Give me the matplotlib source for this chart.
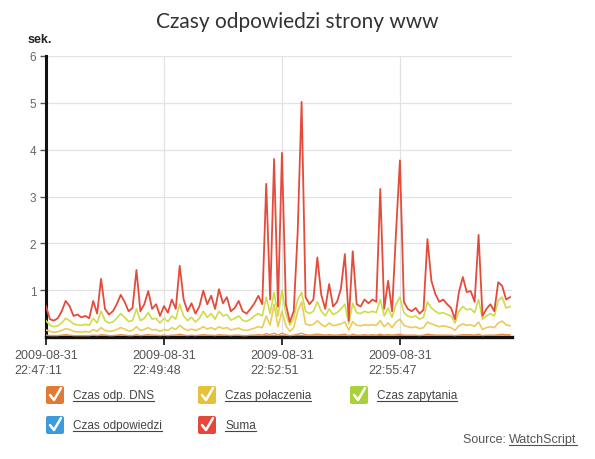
import matplotlib
matplotlib.use("Agg")
import matplotlib.pyplot as plt
from matplotlib.patches import FancyBboxPatch

plt.rcParams['font.family'] = ['Liberation Sans', 'DejaVu Sans']

# ---------------- data ----------------
tick_positions = [0, 30, 60, 90]
tick_labels = ["2009-08-31\n22:47:11", "2009-08-31\n22:49:48",
               "2009-08-31\n22:52:51", "2009-08-31\n22:55:47"]
y_ticks = [1, 2, 3, 4, 5, 6]

suma = [0.66, 0.38, 0.35, 0.40, 0.55, 0.77, 0.66, 0.45, 0.48, 0.42,
        0.45, 0.40, 0.77, 0.50, 1.24, 0.60, 0.48, 0.55, 0.70, 0.90,
        0.75, 0.55, 0.62, 1.43, 0.55, 0.70, 0.98, 0.60, 0.70, 0.45,
        0.66, 0.52, 0.80, 0.60, 1.52, 0.80, 0.55, 0.72, 0.50, 0.65,
        0.99, 0.70, 0.88, 0.60, 1.02, 0.72, 0.85, 0.55, 0.62, 0.77,
        0.55, 0.50, 0.60, 0.72, 0.88, 0.70, 3.27, 0.80, 3.80, 0.65,
        3.93, 0.70, 0.32, 0.55, 2.24, 5.02, 0.85, 0.70, 0.80, 1.70,
        0.90, 0.60, 1.13, 0.65, 0.75, 1.03, 1.77, 0.35, 1.83, 0.70,
        0.65, 0.80, 0.72, 0.80, 0.75, 3.16, 0.60, 1.20, 0.55, 2.22,
        3.77, 0.75, 0.60, 0.55, 0.62, 0.50, 0.58, 2.09, 1.20, 0.92,
        0.75, 0.80, 0.70, 0.62, 0.38, 0.96, 1.28, 0.96, 0.98, 0.75,
        2.18, 0.45, 0.60, 0.70, 0.55, 1.17, 1.09, 0.80, 0.85]

zapytania = [0.35, 0.25, 0.22, 0.24, 0.30, 0.40, 0.35, 0.28, 0.26, 0.25,
             0.27, 0.25, 0.40, 0.30, 0.55, 0.35, 0.30, 0.32, 0.40, 0.50,
             0.42, 0.33, 0.35, 0.60, 0.35, 0.40, 0.52, 0.38, 0.40, 0.30,
             0.40, 0.33, 0.45, 0.38, 0.70, 0.45, 0.35, 0.42, 0.32, 0.40,
             0.55, 0.42, 0.50, 0.38, 0.55, 0.45, 0.48, 0.36, 0.40, 0.45,
             0.36, 0.33, 0.38, 0.45, 0.50, 0.45, 0.85, 0.50, 0.95, 0.45,
             1.00, 0.50, 0.25, 0.40, 0.80, 0.95, 0.55, 0.50, 0.55, 0.75,
             0.55, 0.45, 0.60, 0.48, 0.52, 0.60, 0.70, 0.28, 0.72, 0.52,
             0.50, 0.55, 0.52, 0.55, 0.52, 0.80, 0.45, 0.62, 0.42, 0.70,
             0.85, 0.52, 0.45, 0.42, 0.45, 0.38, 0.42, 0.75, 0.62, 0.55,
             0.50, 0.52, 0.48, 0.45, 0.30, 0.55, 0.65, 0.58, 0.60, 0.52,
             0.80, 0.38, 0.45, 0.50, 0.45, 0.78, 0.85, 0.62, 0.65]

polaczenia = [0.15, 0.12, 0.10, 0.11, 0.14, 0.18, 0.16, 0.12, 0.11, 0.10,
              0.12, 0.10, 0.16, 0.12, 0.20, 0.14, 0.12, 0.13, 0.16, 0.20,
              0.17, 0.13, 0.14, 0.22, 0.14, 0.16, 0.20, 0.15, 0.16, 0.12,
              0.16, 0.14, 0.20, 0.16, 0.25, 0.18, 0.14, 0.17, 0.14, 0.17,
              0.22, 0.17, 0.20, 0.16, 0.22, 0.18, 0.20, 0.15, 0.17, 0.19,
              0.15, 0.14, 0.16, 0.19, 0.22, 0.20, 0.45, 0.25, 0.70, 0.22,
              0.55, 0.24, 0.12, 0.20, 0.55, 0.75, 0.28, 0.25, 0.27, 0.35,
              0.27, 0.22, 0.30, 0.24, 0.26, 0.28, 0.32, 0.15, 0.33, 0.25,
              0.24, 0.26, 0.25, 0.26, 0.25, 0.35, 0.22, 0.30, 0.20, 0.32,
              0.38, 0.25, 0.22, 0.20, 0.22, 0.18, 0.20, 0.32, 0.28, 0.25,
              0.22, 0.24, 0.22, 0.20, 0.14, 0.24, 0.28, 0.25, 0.26, 0.23,
              0.32, 0.16, 0.20, 0.22, 0.20, 0.30, 0.34, 0.26, 0.24]

dns = [0.04, 0.03, 0.03, 0.03, 0.04, 0.05, 0.04, 0.03, 0.03, 0.03,
       0.03, 0.03, 0.04, 0.03, 0.05, 0.04, 0.03, 0.03, 0.04, 0.05,
       0.04, 0.03, 0.03, 0.05, 0.03, 0.04, 0.05, 0.04, 0.04, 0.03,
       0.04, 0.03, 0.04, 0.04, 0.06, 0.04, 0.03, 0.04, 0.03, 0.04,
       0.05, 0.04, 0.04, 0.03, 0.05, 0.04, 0.04, 0.03, 0.04, 0.04,
       0.03, 0.03, 0.04, 0.04, 0.05, 0.04, 0.07, 0.05, 0.08, 0.04,
       0.08, 0.05, 0.03, 0.04, 0.06, 0.08, 0.05, 0.04, 0.05, 0.06,
       0.05, 0.04, 0.05, 0.04, 0.04, 0.05, 0.06, 0.03, 0.06, 0.04,
       0.04, 0.05, 0.04, 0.05, 0.04, 0.06, 0.04, 0.05, 0.04, 0.05,
       0.06, 0.04, 0.04, 0.04, 0.04, 0.03, 0.04, 0.06, 0.05, 0.04,
       0.04, 0.04, 0.04, 0.04, 0.03, 0.04, 0.05, 0.05, 0.05, 0.04,
       0.06, 0.03, 0.04, 0.04, 0.04, 0.05, 0.06, 0.05, 0.05]

odpowiedzi = [0.02, 0.01, 0.01, 0.01, 0.02, 0.02, 0.02, 0.01, 0.01, 0.01,
              0.01, 0.01, 0.02, 0.01, 0.02, 0.02, 0.01, 0.01, 0.02, 0.02,
              0.02, 0.01, 0.01, 0.02, 0.01, 0.02, 0.02, 0.01, 0.02, 0.01,
              0.02, 0.01, 0.02, 0.01, 0.02, 0.02, 0.01, 0.02, 0.01, 0.02,
              0.02, 0.02, 0.02, 0.01, 0.02, 0.02, 0.02, 0.01, 0.02, 0.02,
              0.01, 0.01, 0.02, 0.02, 0.02, 0.02, 0.03, 0.02, 0.03, 0.02,
              0.03, 0.02, 0.01, 0.02, 0.03, 0.03, 0.02, 0.02, 0.02, 0.02,
              0.02, 0.02, 0.02, 0.02, 0.02, 0.02, 0.02, 0.01, 0.02, 0.02,
              0.02, 0.02, 0.02, 0.02, 0.02, 0.03, 0.02, 0.02, 0.02, 0.02,
              0.03, 0.02, 0.02, 0.02, 0.02, 0.01, 0.02, 0.02, 0.02, 0.02,
              0.02, 0.02, 0.02, 0.02, 0.01, 0.02, 0.02, 0.02, 0.02, 0.02,
              0.02, 0.01, 0.02, 0.02, 0.02, 0.02, 0.02, 0.02, 0.02]

legend_labels = ["Czas odp. DNS", "Czas połaczenia", "Czas zapytania",
                 "Czas odpowiedzi", "Suma"]
legend_colors = ["#e07a35", "#e6c23a", "#a9d13a", "#3b9bdb", "#e5483a"]

# ---------------- figure ----------------
W, H = 595, 460
fig = plt.figure(figsize=(W / 100, H / 100), dpi=100)
fig.patch.set_facecolor("white")

ax = fig.add_axes([46 / W, 1 - 338 / H, (512 - 46) / W, (338 - 57) / H])
x = list(range(len(suma)))

ax.plot(x, odpowiedzi, color="#7dbbe6", lw=1.0, zorder=2)
ax.plot(x, dns, color="#e8934f", lw=1.0, zorder=3)
ax.plot(x, polaczenia, color="#e9cc5a", lw=1.2, zorder=4)
ax.plot(x, zapytania, color="#cfdc4a", lw=1.2, zorder=5)
ax.plot(x, suma, color="#e34b3b", lw=1.3, zorder=6)

ax.set_xlim(0, 118.5)
ax.set_ylim(0, 6)
ax.set_yticks(y_ticks)
ax.set_yticklabels([str(v) for v in y_ticks], color="#666666", fontsize=8.5)
ax.set_xticks(tick_positions)
ax.set_xticklabels(tick_labels, fontsize=9, color="#555555",
                   ha="center", multialignment="left", linespacing=1.25)
ax.tick_params(axis="x", direction="out", length=6, width=1.3, color="#222222", pad=3)
ax.tick_params(axis="y", direction="out", length=4, width=1.0, color="#555555", pad=3)

ax.grid(True, color="#e2e2e2", lw=0.9, zorder=0)
ax.set_axisbelow(True)
for s in ["top", "right"]:
    ax.spines[s].set_visible(False)
ax.spines["left"].set_linewidth(2.2)
ax.spines["left"].set_color("#111111")
ax.spines["bottom"].set_linewidth(2.4)
ax.spines["bottom"].set_color("#111111")

# title and unit
fig.text(297 / W, 1 - 22 / H, "Czasy odpowiedzi strony www", ha="center", va="center",
         fontsize=15, color="#333333", family=["Lato", "DejaVu Sans"])
fig.text(28 / W, 1 - 40 / H, "sek.", ha="left", va="center", fontsize=9,
         color="#222222", fontweight="bold")

# ---------------- legend overlay ----------------
ov = fig.add_axes([0, 0, 1, 1], facecolor="none")
ov.set_xlim(0, W)
ov.set_ylim(H, 0)
ov.axis("off")

renderer = fig.canvas.get_renderer()

def underlined(xp, yp, s, fs=8.5, color="#444444"):
    t = ov.text(xp, yp, s, ha="left", va="center", fontsize=fs, color=color)
    bb = t.get_window_extent(renderer=renderer)
    wpx = bb.width * W / fig.bbox.width
    ov.plot([xp, xp + wpx], [yp + 6, yp + 6], color=color, lw=0.8)

positions = [(46, 396), (198, 396), (350, 396), (46, 426), (198, 426)]
for (bx, by), lab, col in zip(positions, legend_labels, legend_colors):
    box = FancyBboxPatch((bx, by - 9), 18, 18, boxstyle="round,pad=0,rounding_size=2",
                         facecolor=col, edgecolor="none")
    ov.add_patch(box)
    ov.plot([bx + 4, bx + 8, bx + 15], [by, by + 5, by - 7], color="white", lw=1.8,
            solid_capstyle="round", solid_joinstyle="round")
    underlined(bx + 27, by, lab)

ov.text(463, 440, "Source: ", ha="left", va="center", fontsize=9, color="#555555")
tsrc = ov.text(463, 440, "Source: ", ha="left", va="center", fontsize=9, color="none")
bb = tsrc.get_window_extent(renderer=renderer)
sx = 463 + bb.width * W / fig.bbox.width
underlined(sx, 440, "WatchScript", fs=9, color="#555555")

fig.savefig("out.png", dpi=100, facecolor="white")
